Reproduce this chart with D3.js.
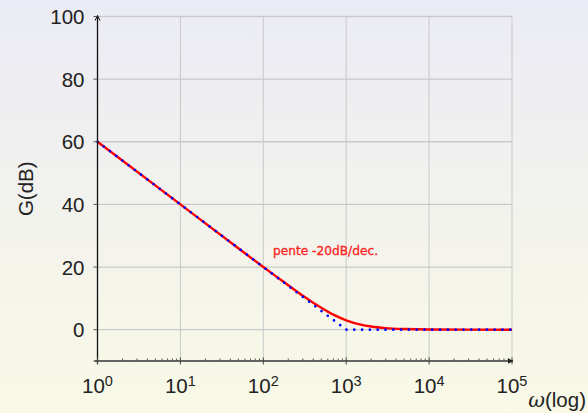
<!DOCTYPE html>
<html>
<head>
<meta charset="utf-8">
<script src="https://cdn.jsdelivr.net/npm/d3@7"></script>
<style>
  html, body { margin: 0; padding: 0; }
  body { width: 588px; height: 413px; overflow: hidden; }
  svg { font-family: "Liberation Sans", "DejaVu Sans", sans-serif; }
</style>
</head>
<body>
<svg id="chart" width="588" height="413"></svg>
<script>
// Bode magnitude plot of a first-order high-pass section, corner at 10^3
const omegaExact = [1, 10, 50, 100, 150, 200, 300, 400, 500, 700, 1000, 1500, 2000, 3000, 5000, 10000, 100000];
const gainExact  = [60, 40, 26.0, 20.0, 16.6, 14.2, 10.8, 8.6, 7.0, 4.8, 3.0, 1.6, 1.0, 0.5, 0.2, 0.04, 0];
const omegaAsym  = [1, 1000, 100000];
const gainAsym   = [60, 0, 0];
const yTicks     = [0, 20, 40, 60, 80, 100];
const xDecades   = [0, 1, 2, 3, 4, 5];
const slopeLabel = "pente -20dB/dec.";

const svg = d3.select("#chart");
const W = 588, H = 413;
const margin = { left: 97.5, right: 76, top: 16.5, bottom: 52 };

// background gradient: pale lavender at top to pale cream at bottom
const defs = svg.append("defs");
const grad = defs.append("linearGradient").attr("id", "bg").attr("x1", 0).attr("y1", 0).attr("x2", 0).attr("y2", 1);
grad.append("stop").attr("offset", "0%").attr("stop-color", "#ebebf5");
grad.append("stop").attr("offset", "100%").attr("stop-color", "#f9f9e6");
svg.append("rect").attr("width", W).attr("height", H).attr("fill", "url(#bg)");

const x = d3.scaleLog().domain([1, 1e5]).range([margin.left, W - margin.right]);
const y = d3.scaleLinear().domain([-10, 100]).range([H - margin.bottom, margin.top]);

// grid
const grid = svg.append("g").attr("stroke", "#c9c9c9").attr("fill", "none");
grid.selectAll("line.h").data(yTicks).join("line")
  .attr("x1", x(1)).attr("x2", x(1e5))
  .attr("y1", d => y(d)).attr("y2", d => y(d))
  .attr("stroke-width", 1.3);
grid.selectAll("line.v").data(xDecades.slice(1)).join("line")
  .attr("x1", d => x(Math.pow(10, d))).attr("x2", d => x(Math.pow(10, d)))
  .attr("y1", y(100)).attr("y2", y(-10))
  .attr("stroke-width", 1);

// curves
const lineGen = d3.line().x(d => x(d[0])).y(d => y(d[1]));
svg.append("path")
  .datum(d3.zip(omegaExact, gainExact))
  .attr("d", lineGen.curve(d3.curveMonotoneX))
  .attr("fill", "none").attr("stroke", "#ff0000").attr("stroke-width", 2.4);
svg.append("path")
  .datum(d3.zip(omegaAsym, gainAsym))
  .attr("d", d3.line().x(d => x(d[0])).y(d => y(d[1])))
  .attr("fill", "none").attr("stroke", "#0000ff").attr("stroke-width", 2.7)
  .attr("stroke-linecap", "round").attr("stroke-dasharray", "0 7.8");

// axes
const axisColor = "#111";
const ax = svg.append("g").attr("stroke", axisColor).attr("fill", "none");
// y axis line with arrow
ax.append("line").attr("x1", x(1)).attr("x2", x(1)).attr("y1", y(-10) + 3).attr("y2", y(100) - 1).attr("stroke-width", 1.3);
ax.append("path").attr("d", `M${x(1) - 2.5},${y(100) + 4} L${x(1)},${y(100) - 1} L${x(1) + 2.5},${y(100) + 4}`).attr("stroke-width", 1);
// x axis line with arrow
ax.append("line").attr("x1", x(1) - 3).attr("x2", x(1e5) + 1).attr("y1", y(-10)).attr("y2", y(-10)).attr("stroke-width", 1.3).attr("stroke", "#333");
svg.append("path").attr("d", `M${x(1e5) - 4},${y(-10) - 2.8} L${x(1e5) + 1.5},${y(-10)} L${x(1e5) - 4},${y(-10) + 2.8} Z`).attr("fill", "#222");

// y ticks
ax.selectAll("line.yt").data(yTicks.concat([-10])).join("line")
  .attr("x1", x(1) - 4).attr("x2", x(1))
  .attr("y1", d => y(d)).attr("y2", d => y(d)).attr("stroke-width", 1).attr("stroke", "#555");

// x major & minor ticks
ax.selectAll("line.xt").data(xDecades).join("line")
  .attr("x1", d => x(Math.pow(10, d))).attr("x2", d => x(Math.pow(10, d)))
  .attr("y1", y(-10) - 3.5).attr("y2", y(-10) + 3.5).attr("stroke-width", 1).attr("stroke", "#444");
const minors = [];
xDecades.slice(0, 5).forEach(e => { for (let k = 2; k <= 9; k++) minors.push(k * Math.pow(10, e)); });
ax.selectAll("line.xm").data(minors).join("line")
  .attr("x1", d => x(d)).attr("x2", d => x(d))
  .attr("y1", y(-10) - 2.5).attr("y2", y(-10)).attr("stroke-width", 1).attr("stroke", "#555");

// tick labels
const tickFont = 20.5;
svg.append("g").selectAll("text").data(yTicks).join("text")
  .attr("x", x(1) - 13).attr("y", d => y(d) + 7.5)
  .attr("text-anchor", "end").attr("font-size", tickFont).attr("fill", "#222")
  .text(d => d);

const xl = svg.append("g").selectAll("text").data(xDecades).join("text")
  .attr("x", d => x(Math.pow(10, d))).attr("y", y(-10) + 32)
  .attr("text-anchor", "middle").attr("font-size", tickFont).attr("fill", "#222");
xl.append("tspan").text("10");
xl.append("tspan").attr("dy", -7).attr("font-size", 14.5).text(d => d);

// axis titles
svg.append("text")
  .attr("transform", `translate(33, ${y(45)}) rotate(-90)`)
  .attr("text-anchor", "middle").attr("font-size", 20.5).attr("fill", "#222")
  .text("G(dB)");
const xt = svg.append("text").attr("x", 586).attr("y", 407).attr("text-anchor", "end")
  .attr("font-size", 20.5).attr("fill", "#222");
xt.append("tspan").style("font-family", "'DejaVu Serif', serif").style("font-style", "italic").text("ω");
xt.append("tspan").text("(log)");

// annotation
svg.append("text")
  .attr("x", 273).attr("y", 255)
  .style("font-family", "'DejaVu Sans', sans-serif")
  .attr("font-size", 12.2).attr("fill", "#ff2222")
  .attr("stroke", "#ff2222").attr("stroke-width", 0.3)
  .text(slopeLabel);
</script>
</body>
</html>
